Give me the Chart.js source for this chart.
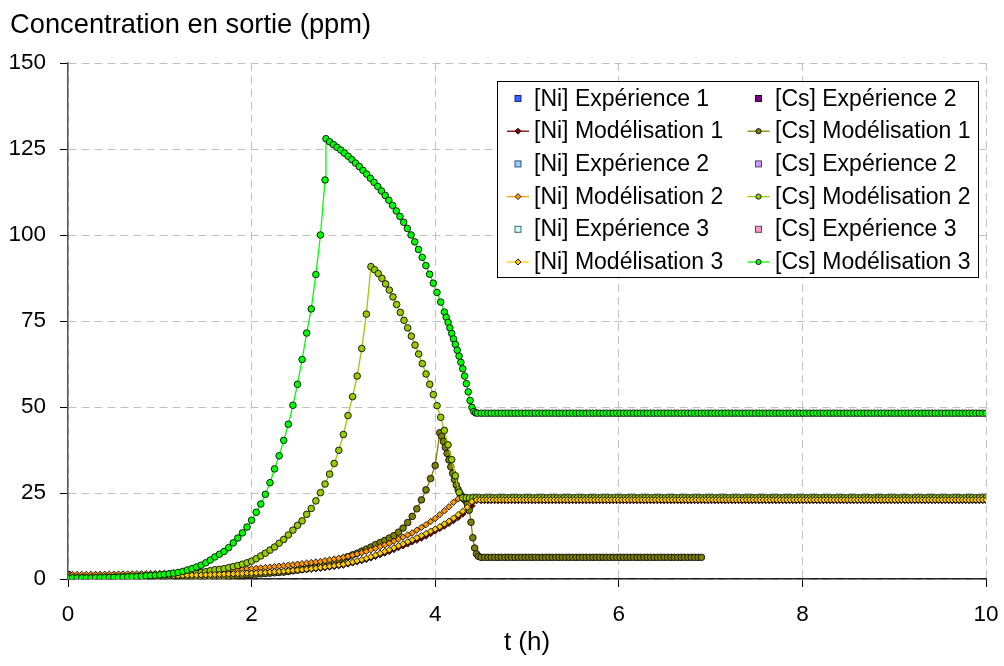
<!DOCTYPE html>
<html><head><meta charset="utf-8">
<script src="https://cdn.jsdelivr.net/npm/chart.js@4.4.1/dist/chart.umd.min.js"></script>
<style>html,body{margin:0;padding:0;background:#fff}#wrap{width:1004px;height:666px}</style>
</head><body><div id="wrap"><canvas id="c" width="1004" height="666"></canvas></div>
<script>
// ---- data (t in hours, concentration in ppm); each segment = [t start, t end] + values read at even spacing ----
const xTicks = [0, 2, 4, 6, 8, 10];
const yTicks = [0, 25, 50, 75, 100, 125, 150];

const niExp1 = [[0, 1.5]];
const niExp2 = [];
const niExp3 = [];
const csExp2a = [];
const csExp2b = [];
const csExp3 = [];

const niMod1Span = [0, 4.45];
const niMod1Rise = [
0.55,0.56,0.57,0.58,0.59,0.60,0.61,0.62,0.63,0.64,
0.65,0.67,0.69,0.71,0.73,0.75,0.77,0.79,0.81,0.83,
0.85,0.88,0.91,0.94,0.97,1.00,1.03,1.06,1.09,1.12,
1.15,1.19,1.23,1.28,1.33,1.38,1.43,1.48,1.54,1.60,
1.65,1.72,1.79,1.86,1.93,2.00,2.09,2.18,2.27,2.36,
2.46,2.58,2.70,2.83,2.97,3.11,3.28,3.46,3.65,3.85,
4.06,4.37,4.68,5.01,5.34,5.68,6.13,6.58,7.06,7.55,
8.03,8.58,9.13,9.64,10.2,10.8,11.3,11.9,12.5,13.2,
14.0,14.7,15.4,16.2,17.0,17.9,18.9,20.0,21.3,22.8];
const niMod1PlatSpan = [4.5, 10];
const niMod1Plat = [
22.8,22.8,22.8,22.8,22.8,22.8,22.8,22.8,22.8,22.8,22.8,22.8,22.8,22.8,22.8,
22.8,22.8,22.8,22.8,22.8,22.8,22.8,22.8,22.8,22.8,22.8,22.8,22.8,22.8,22.8,
22.8,22.8,22.8,22.8,22.8,22.8,22.8,22.8,22.8,22.8,22.8,22.8,22.8,22.8,22.8,
22.8,22.8,22.8,22.8,22.8,22.8,22.8,22.8,22.8,22.8,22.8,22.8,22.8,22.8,22.8,
22.8,22.8,22.8,22.8,22.8,22.8,22.8,22.8,22.8,22.8,22.8,22.8,22.8,22.8,22.8,
22.8,22.8,22.8,22.8,22.8,22.8,22.8,22.8,22.8,22.8,22.8,22.8,22.8,22.8,22.8,
22.8,22.8,22.8,22.8,22.8,22.8,22.8,22.8,22.8,22.8,22.8,22.8,22.8,22.8,22.8,
22.8,22.8,22.8,22.8,22.8,22.8,22.8,22.8,22.8,22.8,22.8,22.8,22.8,22.8,22.8,
22.8,22.8,22.8,22.8,22.8,22.8,22.8,22.8,22.8,22.8,22.8,22.8,22.8,22.8,22.8,
22.8,22.8,22.8,22.8,22.8,22.8,22.8,22.8,22.8,22.8,22.8,22.8,22.8,22.8,22.8];

const niMod2Span = [0, 4.25];
const niMod2Rise = [
1.30,1.31,1.32,1.33,1.34,1.35,1.36,1.37,1.38,1.39,
1.40,1.42,1.44,1.46,1.48,1.50,1.52,1.54,1.56,1.58,
1.60,1.64,1.68,1.73,1.78,1.83,1.88,1.94,2.00,2.05,
2.10,2.18,2.26,2.34,2.42,2.51,2.60,2.70,2.80,2.90,
3.00,3.11,3.22,3.34,3.46,3.59,3.72,3.86,4.00,4.15,
4.30,4.46,4.62,4.78,4.94,5.10,5.33,5.56,5.80,6.05,
6.30,6.62,6.95,7.30,7.65,8.00,8.45,8.90,9.40,9.90,
10.4,11.0,11.6,12.2,12.8,13.4,14.2,15.0,15.8,16.7,
17.6,18.7,19.8,21.0,22.3,23.3];
const niMod2PlatSpan = [4.3, 10];
const niMod2Plat = [
23.3,23.3,23.3,23.3,23.3,23.3,23.3,23.3,23.3,23.3,23.3,23.3,23.3,23.3,23.3,
23.3,23.3,23.3,23.3,23.3,23.3,23.3,23.3,23.3,23.3,23.3,23.3,23.3,23.3,23.3,
23.3,23.3,23.3,23.3,23.3,23.3,23.3,23.3,23.3,23.3,23.3,23.3,23.3,23.3,23.3,
23.3,23.3,23.3,23.3,23.3,23.3,23.3,23.3,23.3,23.3,23.3,23.3,23.3,23.3,23.3,
23.3,23.3,23.3,23.3,23.3,23.3,23.3,23.3,23.3,23.3,23.3,23.3,23.3,23.3,23.3,
23.3,23.3,23.3,23.3,23.3,23.3,23.3,23.3,23.3,23.3,23.3,23.3,23.3,23.3,23.3,
23.3,23.3,23.3,23.3,23.3,23.3,23.3,23.3,23.3,23.3,23.3,23.3,23.3,23.3,23.3,
23.3,23.3,23.3,23.3,23.3,23.3,23.3,23.3,23.3,23.3,23.3,23.3,23.3,23.3,23.3,
23.3,23.3,23.3,23.3,23.3,23.3,23.3,23.3,23.3,23.3,23.3,23.3,23.3,23.3,23.3,
23.3,23.3,23.3,23.3,23.3,23.3,23.3,23.3,23.3,23.3,23.3,23.3,23.3,23.3,23.3,
23.3,23.3,23.3,23.3,23.3,23.3];

const niMod3Span = [0, 4.4];
const niMod3Rise = [
0.60,0.61,0.62,0.63,0.64,0.65,0.66,0.67,0.68,0.69,
0.70,0.72,0.74,0.76,0.78,0.80,0.82,0.84,0.86,0.88,
0.90,0.93,0.96,0.99,1.02,1.05,1.08,1.11,1.14,1.17,
1.20,1.25,1.30,1.35,1.40,1.45,1.50,1.56,1.62,1.68,
1.70,1.78,1.86,1.94,2.02,2.10,2.20,2.30,2.40,2.50,
2.60,2.73,2.86,3.00,3.15,3.30,3.48,3.68,3.88,4.08,
4.30,4.62,4.95,5.30,5.65,6.00,6.48,6.96,7.48,8.00,
8.50,9.08,9.66,10.2,10.8,11.4,12.0,12.6,13.2,13.9,
14.5,15.2,16.0,16.8,17.7,18.7,19.7,20.9,22.5];
const niMod3PlatSpan = [4.45, 10];
const niMod3Plat = [
23.0,23.0,23.0,23.0,23.0,23.0,23.0,23.0,23.0,23.0,23.0,23.0,23.0,23.0,23.0,
23.0,23.0,23.0,23.0,23.0,23.0,23.0,23.0,23.0,23.0,23.0,23.0,23.0,23.0,23.0,
23.0,23.0,23.0,23.0,23.0,23.0,23.0,23.0,23.0,23.0,23.0,23.0,23.0,23.0,23.0,
23.0,23.0,23.0,23.0,23.0,23.0,23.0,23.0,23.0,23.0,23.0,23.0,23.0,23.0,23.0,
23.0,23.0,23.0,23.0,23.0,23.0,23.0,23.0,23.0,23.0,23.0,23.0,23.0,23.0,23.0,
23.0,23.0,23.0,23.0,23.0,23.0,23.0,23.0,23.0,23.0,23.0,23.0,23.0,23.0,23.0,
23.0,23.0,23.0,23.0,23.0,23.0,23.0,23.0,23.0,23.0,23.0,23.0,23.0,23.0,23.0,
23.0,23.0,23.0,23.0,23.0,23.0,23.0,23.0,23.0,23.0,23.0,23.0,23.0,23.0,23.0,
23.0,23.0,23.0,23.0,23.0,23.0,23.0,23.0,23.0,23.0,23.0,23.0,23.0,23.0,23.0,
23.0,23.0,23.0,23.0,23.0,23.0,23.0,23.0,23.0,23.0,23.0,23.0,23.0,23.0,23.0,
23.0,23.0];

const csMod1BaseSpan = [0, 2.5];
const csMod1Base = [
0.1,0.1,0.1,0.1,0.1,0.1,0.1,0.1,0.1,0.1,
0.15,0.15,0.15,0.15,0.15,0.15,0.15,0.15,0.15,0.15,
0.2,0.2,0.25,0.25,0.3,0.3,0.35,0.4,0.45,0.5,
0.55,0.6,0.65,0.7,0.75,0.8,0.9,1.0,1.1,1.2,
1.3,1.4,1.5,1.6,1.7,1.8,1.9,2.0,2.2,2.4,2.6];
const csMod1RiseSpan = [2.55, 4.05];
const csMod1Rise = [2.8,3.0,3.3,3.6,3.9,4.3,4.7,5.1,5.5,6.0,6.5,7.0,7.5,8.1,8.7,9.3,10.0,10.6,11.2,11.9,12.6,13.6,14.8,16.4,18.2,20.4,23.0,25.9,29.2,33.0,42.5];
const csMod1FallSpan = [4.07, 4.47];
const csMod1Fall = [41.5,40.0,38.3,36.5,34.6,32.6,30.7,28.9,27.3,26.0,24.9,24.0,23.3,22.8,21.8,20.0,16.5,12.0,9.0,7.3,6.6];
const csMod1PlatSpan = [4.5, 6.9];
const csMod1Plat = [
6.3,6.3,6.3,6.3,6.3,6.3,6.3,6.3,6.3,6.3,6.3,6.3,6.3,6.3,6.3,
6.3,6.3,6.3,6.3,6.3,6.3,6.3,6.3,6.3,6.3,6.3,6.3,6.3,6.3,6.3,
6.3,6.3,6.3,6.3,6.3,6.3,6.3,6.3,6.3,6.3,6.3,6.3,6.3,6.3,6.3,
6.3,6.3,6.3,6.3,6.3,6.3,6.3,6.3,6.3,6.3,6.3,6.3,6.3,6.3,6.3,
6.3,6.3,6.3,6.3,6.3,6.3];

const csMod2BaseSpan = [0, 1.6];
const csMod2Base = [0.1,0.1,0.1,0.1,0.1,0.1,0.1,0.1,0.15,0.15,0.2,0.2,0.25,0.25,0.3,0.3,0.35,0.4,0.45,0.5,0.6,0.7,0.8,0.9,1.0,1.1,1.3,1.5,1.7,1.9,2.1,2.4,2.7];
const csMod2RiseSpan = [1.65, 3.25];
const csMod2Rise = [2.8,3.0,3.3,3.6,3.9,4.3,4.7,5.2,5.9,6.7,7.5,8.4,9.3,10.4,11.5,12.8,14.2,15.6,16.9,18.8,20.5,22.7,25.1,27.6,30.5,33.6,37.4,42.0,47.5,53.0,59.0,67.0,77.0];
const csMod2FallSpan = [3.3, 4.26];
const csMod2Fall = [90.8,89.9,88.8,87.4,85.8,84.0,82.0,79.8,77.5,75.2,73.0,70.6,68.0,65.4,62.6,59.6,56.6,53.6,50.4,47.0,43.2,39.0,34.7,30.0,25.2];
const csMod2PlatSpan = [4.3, 10];
const csMod2Plat = [
23.6,23.6,23.6,23.6,23.6,23.6,23.6,23.6,23.6,23.6,23.6,23.6,23.6,23.6,23.6,
23.6,23.6,23.6,23.6,23.6,23.6,23.6,23.6,23.6,23.6,23.6,23.6,23.6,23.6,23.6,
23.6,23.6,23.6,23.6,23.6,23.6,23.6,23.6,23.6,23.6,23.6,23.6,23.6,23.6,23.6,
23.6,23.6,23.6,23.6,23.6,23.6,23.6,23.6,23.6,23.6,23.6,23.6,23.6,23.6,23.6,
23.6,23.6,23.6,23.6,23.6,23.6,23.6,23.6,23.6,23.6,23.6,23.6,23.6,23.6,23.6,
23.6,23.6,23.6,23.6,23.6,23.6,23.6,23.6,23.6,23.6,23.6,23.6,23.6,23.6,23.6,
23.6,23.6,23.6,23.6,23.6,23.6,23.6,23.6,23.6,23.6,23.6,23.6,23.6,23.6,23.6,
23.6,23.6,23.6,23.6,23.6,23.6,23.6,23.6,23.6,23.6,23.6,23.6,23.6,23.6,23.6,
23.6,23.6,23.6,23.6,23.6,23.6,23.6,23.6,23.6,23.6,23.6,23.6,23.6,23.6,23.6,
23.6,23.6,23.6,23.6,23.6,23.6,23.6,23.6,23.6,23.6,23.6,23.6,23.6,23.6,23.6,
23.6,23.6,23.6,23.6,23.6,23.6];

const csMod3BaseSpan = [0, 1.2];
const csMod3Base = [0.3,0.3,0.3,0.3,0.3,0.3,0.35,0.35,0.4,0.4,0.45,0.5,0.55,0.6,0.65,0.7,0.8,0.9,1.0,1.1,1.2,1.35,1.5,1.7,1.9];
const csMod3RiseSpan = [1.25, 2.8];
const csMod3Rise = [2.2,2.6,3.0,3.5,4.0,4.7,5.5,6.4,7.2,8.0,9.1,10.5,11.9,13.4,15.1,17.1,19.4,21.8,24.6,28.0,32.0,35.8,40.3,45.0,50.5,56.6,63.8,71.5,78.5,88.5,100,116];
const csMod3FallSpan = [2.81, 4.1];
const csMod3Fall = [128,127.1,126.3,125.5,124.7,123.8,122.9,121.9,120.9,119.9,118.8,117.7,116.5,115.3,114.1,112.8,111.5,110.1,108.6,107.0,105.4,103.7,101.9,100.0,98.0,95.8,93.5,91.1,88.6,86.0,83.3,80.5,77.6];
const csMod3DropSpan = [4.12, 4.46];
const csMod3Drop = [76.1,74.6,73.0,71.4,69.8,68.2,66.5,64.8,63.0,61.1,59.0,56.8,54.4,51.9,49.9,48.7,48.3,48.2];
const csMod3PlatSpan = [4.5, 10];
const csMod3Plat = [
48.2,48.2,48.2,48.2,48.2,48.2,48.2,48.2,48.2,48.2,48.2,48.2,48.2,48.2,48.2,
48.2,48.2,48.2,48.2,48.2,48.2,48.2,48.2,48.2,48.2,48.2,48.2,48.2,48.2,48.2,
48.2,48.2,48.2,48.2,48.2,48.2,48.2,48.2,48.2,48.2,48.2,48.2,48.2,48.2,48.2,
48.2,48.2,48.2,48.2,48.2,48.2,48.2,48.2,48.2,48.2,48.2,48.2,48.2,48.2,48.2,
48.2,48.2,48.2,48.2,48.2,48.2,48.2,48.2,48.2,48.2,48.2,48.2,48.2,48.2,48.2,
48.2,48.2,48.2,48.2,48.2,48.2,48.2,48.2,48.2,48.2,48.2,48.2,48.2,48.2,48.2,
48.2,48.2,48.2,48.2,48.2,48.2,48.2,48.2,48.2,48.2,48.2,48.2,48.2,48.2,48.2,
48.2,48.2,48.2,48.2,48.2,48.2,48.2,48.2,48.2,48.2,48.2,48.2,48.2,48.2,48.2,
48.2,48.2,48.2,48.2,48.2,48.2,48.2,48.2,48.2,48.2,48.2,48.2,48.2,48.2,48.2,
48.2,48.2,48.2,48.2,48.2,48.2,48.2,48.2,48.2,48.2,48.2,48.2,48.2,48.2,48.2];

// ---- build points ----
function spread(span, vals) {
  const a = span[0], b = span[1], n = vals.length;
  return vals.map((v, i) => ({ x: n > 1 ? a + (b - a) * i / (n - 1) : a, y: v }));
}
const pairs = arr => arr.map(p => ({ x: p[0], y: p[1] }));

const FONT = '"Liberation Sans", Arial, Helvetica, sans-serif';
Chart.defaults.font.family = FONT;
Chart.defaults.color = '#000';

const EDGE = 'rgba(10,10,10,0.9)';
function expDs(label, data, fill, edge) {
  return { label, data: pairs(data), showLine: false, pointStyle: 'rect', pointRadius: 3.4,
    backgroundColor: fill, borderColor: edge, pointBackgroundColor: fill, pointBorderColor: edge, pointBorderWidth: 1 };
}
function modDs(label, data, color, style, r) {
  return { label, data, showLine: true, borderColor: color, borderWidth: 1.3, backgroundColor: color,
    pointStyle: style, pointRadius: r, pointBackgroundColor: color, pointBorderColor: EDGE, pointBorderWidth: 1 };
}

// legend order (two columns, read top-to-bottom)
const datasets = [
  expDs('[Ni] Expérience 1', niExp1, '#3366FF', '#1a237e'),
  modDs('[Ni] Modélisation 1', [...spread(niMod1Span, niMod1Rise), ...spread(niMod1PlatSpan, niMod1Plat)], '#800000', 'rectRot', 3.2),
  expDs('[Ni] Expérience 2', niExp2, '#99CCFF', '#335577'),
  modDs('[Ni] Modélisation 2', [...spread(niMod2Span, niMod2Rise), ...spread(niMod2PlatSpan, niMod2Plat)], '#FF9900', 'rectRot', 3.2),
  expDs('[Ni] Expérience 3', niExp3, '#CCFFFF', '#446666'),
  modDs('[Ni] Modélisation 3', [...spread(niMod3Span, niMod3Rise), ...spread(niMod3PlatSpan, niMod3Plat)], '#FFCC00', 'rectRot', 3.2),
  expDs('[Cs] Expérience 2', csExp2a, '#800080', '#300030'),
  modDs('[Cs] Modélisation 1', [...spread(csMod1BaseSpan, csMod1Base), ...spread(csMod1RiseSpan, csMod1Rise), ...spread(csMod1FallSpan, csMod1Fall), ...spread(csMod1PlatSpan, csMod1Plat)], '#808000', 'circle', 3.3),
  expDs('[Cs] Expérience 2', csExp2b, '#CC99FF', '#554466'),
  modDs('[Cs] Modélisation 2', [...spread(csMod2BaseSpan, csMod2Base), ...spread(csMod2RiseSpan, csMod2Rise), ...spread(csMod2FallSpan, csMod2Fall), ...spread(csMod2PlatSpan, csMod2Plat)], '#99CC00', 'circle', 3.3),
  expDs('[Cs] Expérience 3', csExp3, '#FF99CC', '#664455'),
  modDs('[Cs] Modélisation 3', [...spread(csMod3BaseSpan, csMod3Base), ...spread(csMod3RiseSpan, csMod3Rise), ...spread(csMod3FallSpan, csMod3Fall), ...spread(csMod3DropSpan, csMod3Drop), ...spread(csMod3PlatSpan, csMod3Plat)], '#00FF00', 'circle', 3.3)
];
// drawing order follows the series order (row by row): later series on top
datasets.forEach((d, i) => { d.order = -((i % 6) * 2 + Math.floor(i / 6)); });

// ---- title + boxed two-column legend ----
const decor = {
  id: 'decor',
  afterDraw(chart) {
    const ctx = chart.ctx;
    ctx.save();
    ctx.fillStyle = '#000';
    ctx.font = '27.3px ' + FONT;
    ctx.textBaseline = 'alphabetic';
    ctx.textAlign = 'left';
    ctx.fillText('Concentration en sortie (ppm)', 10, 33);

    const L = 497.5, T = 81.5, W = 481, H = 196;
    ctx.fillStyle = '#fff';
    ctx.fillRect(L, T, W, H);
    ctx.strokeStyle = '#000';
    ctx.lineWidth = 1;
    ctx.strokeRect(L, T, W, H);
    ctx.font = '23px ' + FONT;
    chart.data.datasets.forEach((ds, i) => {
      const col = Math.floor(i / 6), row = i % 6;
      const cx = col ? 758.5 : 518, cy = 98.5 + row * 32.7;
      if (ds.showLine) {
        ctx.strokeStyle = ds.borderColor; ctx.lineWidth = 1.3;
        ctx.beginPath(); ctx.moveTo(cx - 11, cy); ctx.lineTo(cx + 11, cy); ctx.stroke();
        ctx.fillStyle = ds.pointBackgroundColor; ctx.strokeStyle = EDGE; ctx.lineWidth = 1;
        ctx.beginPath();
        if (ds.pointStyle === 'circle') ctx.arc(cx, cy, 2.6, 0, Math.PI * 2);
        else { ctx.moveTo(cx, cy - 3); ctx.lineTo(cx + 3, cy); ctx.lineTo(cx, cy + 3); ctx.lineTo(cx - 3, cy); ctx.closePath(); }
        ctx.fill(); ctx.stroke();
      } else {
        ctx.fillStyle = ds.pointBackgroundColor; ctx.strokeStyle = ds.pointBorderColor; ctx.lineWidth = 1;
        ctx.fillRect(cx - 3, cy - 3, 6, 6); ctx.strokeRect(cx - 3, cy - 3, 6, 6);
      }
      ctx.fillStyle = '#000';
      ctx.fillText(ds.label, col ? 775 : 534, cy + 7);
    });
    ctx.restore();
  }
};

new Chart(document.getElementById('c'), {
  type: 'scatter',
  data: { datasets },
  options: {
    responsive: false, animation: false, devicePixelRatio: 1, events: [],
    layout: { padding: { top: 63, right: 18, left: 0, bottom: 0 } },
    plugins: { legend: { display: false }, tooltip: { enabled: false }, title: { display: false } },
    scales: {
      x: {
        type: 'linear', min: 0, max: 10,
        afterBuildTicks: s => { s.ticks = xTicks.map(v => ({ value: v })); },
        afterFit: s => { s.height = 87; s.paddingLeft = 0; s.paddingRight = 0; },
        ticks: { font: { size: 22.5 }, color: '#000', padding: 14, maxRotation: 0 },
        grid: { color: '#c0c0c0', lineWidth: 1, tickLength: 8, tickColor: '#000', tickWidth: 1, tickBorderDash: [] },
        border: { display: true, color: '#222', width: 1.5, dash: [8, 5] },
        title: { display: true, text: 't (h)', font: { size: 26 }, color: '#000', padding: { top: 0, bottom: 8 } }
      },
      y: {
        type: 'linear', min: 0, max: 150,
        afterBuildTicks: s => { s.ticks = yTicks.map(v => ({ value: v })); },
        afterFit: s => { s.width = 68; s.paddingTop = 0; s.paddingBottom = 0; },
        ticks: { font: { size: 22.5 }, color: '#000', padding: 14 },
        grid: { color: '#c0c0c0', lineWidth: 1, tickLength: 8, tickColor: '#000', tickWidth: 1, tickBorderDash: [] },
        border: { display: true, color: '#555', width: 1.5, dash: [8, 5] }
      }
    }
  },
  plugins: [decor]
});
</script></body></html>
